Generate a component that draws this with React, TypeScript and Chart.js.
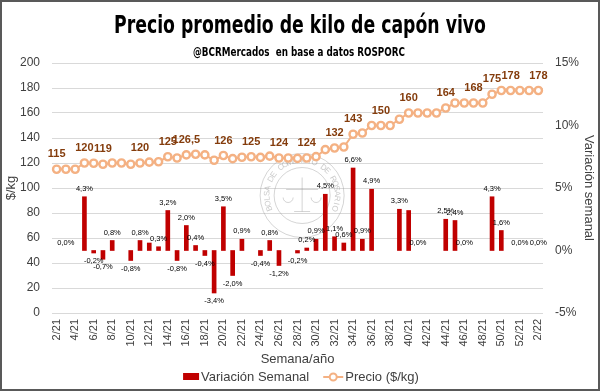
import React, { useEffect, useRef } from "react";
import { Chart, registerables } from "chart.js";

Chart.register(...registerables);

const weeks: string[] = [
  "2/21", "3/21", "4/21", "5/21", "6/21", "7/21", "8/21", "9/21", "10/21", "11/21",
  "12/21", "13/21", "14/21", "15/21", "16/21", "17/21", "18/21", "19/21", "20/21", "21/21",
  "22/21", "23/21", "24/21", "25/21", "26/21", "27/21", "28/21", "29/21", "30/21", "31/21",
  "32/21", "33/21", "34/21", "35/21", "36/21", "37/21", "38/21", "39/21", "40/21", "41/21",
  "42/21", "43/21", "44/21", "45/21", "46/21", "47/21", "48/21", "49/21", "50/21", "51/21",
  "52/21", "1/22", "2/22",
];

const prices: number[] = [
  115, 115, 115, 120, 119.8, 119, 120, 120, 119, 120,
  120.7, 121, 125, 124, 126.5, 127, 126.5, 122.2, 126, 123.5,
  124.6, 125, 124.5, 125.5, 124, 124, 123.7, 124, 125.1, 130.7,
  132, 132.8, 143, 144, 150, 150, 150, 155, 160, 160,
  160, 160, 164, 168, 168, 168, 168, 175, 178, 178,
  178, 178, 178,
];

const variation: (number | null)[] = [
  null, 0, null, 4.3, -0.2, -0.7, 0.8, null, -0.8, 0.8,
  0.6, 0.3, 3.2, -0.8, 2.0, 0.4, -0.4, -3.4, 3.5, -2.0,
  0.9, null, -0.4, 0.8, -1.2, null, -0.2, 0.2, 0.9, 4.5,
  1.1, 0.6, 6.6, 0.9, 4.9, null, null, 3.3, 3.2, 0,
  null, null, 2.5, 2.4, 0, null, null, 4.3, 1.6, null,
  0, null, 0,
];

// indices of the price points that carry a value label
const priceLabelIdx: number[] = [0, 3, 5, 9, 12, 14, 18, 21, 24, 27, 30, 32, 35, 38, 42, 45, 47, 49, 52];
// bars whose label is not shown
const hiddenVarLabelIdx: number[] = [10, 38];

const leftTicks = { min: 0, max: 200, step: 20 };
const rightTicks = { min: -5, max: 15, step: 5 };

const TITLE = "Precio promedio de kilo de capón vivo";
const SUBTITLE = "@BCRMercados  en base a datos ROSPORC";
const BAR_COLOR = "#C00000";
const LINE_COLOR = "#F4B183";
const PRICE_LABEL_COLOR = "#843C0C";
const TEXT_COLOR = "#404040";
const FONT = "'Liberation Sans', Arial, sans-serif";

function fmt(v: number, digits: number) {
  return v.toFixed(digits).replace(".", ",");
}

function fitText(ctx: CanvasRenderingContext2D, text: string, font: string, cx: number, baseline: number, targetW: number) {
  ctx.save();
  ctx.font = font;
  const w = ctx.measureText(text).width;
  ctx.translate(cx, baseline);
  ctx.scale(targetW / w, 1);
  ctx.textAlign = "center";
  ctx.textBaseline = "alphabetic";
  ctx.fillStyle = "#000";
  ctx.fillText(text, 0, 0);
  ctx.restore();
}

const decorPlugin = {
  id: "decor",
  beforeDatasetsDraw(chart: any) {
    const ctx: CanvasRenderingContext2D = chart.ctx;
    const xs = chart.scales.x;
    const ys = chart.scales.y1;
    const cx = (xs.getPixelForValue(26) + xs.getPixelForValue(27)) / 2;
    const cy = ys.getPixelForValue(4.4);
    ctx.save();
    ctx.strokeStyle = "rgba(150,150,150,0.4)";
    ctx.lineWidth = 1;
    ctx.beginPath();
    ctx.arc(cx, cy, 42, 0, Math.PI * 2);
    ctx.stroke();
    ctx.beginPath();
    ctx.arc(cx, cy, 28, 0, Math.PI * 2);
    ctx.stroke();
    // balance scale sketch
    ctx.beginPath();
    ctx.moveTo(cx, cy - 18);
    ctx.lineTo(cx, cy + 16);
    ctx.moveTo(cx - 16, cy - 6);
    ctx.lineTo(cx + 16, cy - 6);
    ctx.moveTo(cx - 8, cy + 16);
    ctx.lineTo(cx + 8, cy + 16);
    ctx.stroke();
    ctx.beginPath();
    ctx.arc(cx - 14, cy + 2, 5, 0, Math.PI);
    ctx.stroke();
    ctx.beginPath();
    ctx.arc(cx + 14, cy + 2, 5, 0, Math.PI);
    ctx.stroke();
    const ring = "BOLSA DE COMERCIO DE ROSARIO";
    ctx.font = `8px ${FONT}`;
    ctx.fillStyle = "rgba(150,150,150,0.5)";
    ctx.textAlign = "center";
    ctx.textBaseline = "middle";
    const start = -Math.PI / 2 - Math.PI * 0.62;
    const sweep = Math.PI * 1.24;
    for (let i = 0; i < ring.length; i++) {
      const a = start + (sweep * i) / (ring.length - 1);
      ctx.save();
      ctx.translate(cx, cy);
      ctx.rotate(a + Math.PI / 2);
      ctx.fillText(ring[i], 0, -35);
      ctx.restore();
    }
    ctx.restore();
  },
  afterDatasetsDraw(chart: any) {
    const ctx: CanvasRenderingContext2D = chart.ctx;
    ctx.save();
    // bar labels
    const barMeta = chart.getDatasetMeta(0);
    ctx.font = `7.5px ${FONT}`;
    ctx.fillStyle = "#000";
    ctx.textAlign = "center";
    ctx.textBaseline = "middle";
    variation.forEach((v, i) => {
      if (v === null || hiddenVarLabelIdx.includes(i)) return;
      const el = barMeta.data[i];
      if (!el) return;
      const y = v < 0 ? el.y + 8 : el.y - 8;
      ctx.fillText(fmt(v, 1) + "%", el.x, y);
    });
    // price labels
    const lineMeta = chart.getDatasetMeta(1);
    ctx.font = `bold 11px ${FONT}`;
    ctx.fillStyle = PRICE_LABEL_COLOR;
    priceLabelIdx.forEach((i) => {
      const el = lineMeta.data[i];
      if (!el) return;
      const v = prices[i];
      const txt = Number.isInteger(v) ? String(v) : fmt(v, 1);
      ctx.fillText(txt, el.x, el.y - 15);
    });
    ctx.restore();
  },
  afterDraw(chart: any) {
    const ctx: CanvasRenderingContext2D = chart.ctx;
    fitText(ctx, TITLE, "bold 25px 'DejaVu Sans Condensed', 'DejaVu Sans', sans-serif", 300, 33, 372);
    fitText(ctx, SUBTITLE, "bold 11.5px 'DejaVu Sans Condensed', 'DejaVu Sans', sans-serif", 299, 56, 212);
    // legend
    ctx.save();
    ctx.font = `13px ${FONT}`;
    const t1 = "Variación Semanal";
    const t2 = "Precio ($/kg)";
    const w1 = ctx.measureText(t1).width;
    const w2 = ctx.measureText(t2).width;
    const total = 16 + 2 + w1 + 14 + 20 + 2 + w2;
    let x = 301 - total / 2;
    const y = 377;
    ctx.fillStyle = BAR_COLOR;
    ctx.fillRect(x, y - 4, 16, 7);
    x += 18;
    ctx.fillStyle = TEXT_COLOR;
    ctx.textAlign = "left";
    ctx.textBaseline = "middle";
    ctx.fillText(t1, x, y);
    x += w1 + 14;
    ctx.strokeStyle = LINE_COLOR;
    ctx.lineWidth = 2;
    ctx.beginPath();
    ctx.moveTo(x, y);
    ctx.lineTo(x + 20, y);
    ctx.stroke();
    ctx.beginPath();
    ctx.arc(x + 10, y, 3.5, 0, Math.PI * 2);
    ctx.fillStyle = "#fff";
    ctx.fill();
    ctx.stroke();
    x += 22;
    ctx.fillStyle = TEXT_COLOR;
    ctx.fillText(t2, x, y);
    ctx.restore();
  },
};

export default function App() {
  const ref = useRef<HTMLCanvasElement>(null);
  useEffect(() => {
    document.body.style.margin = "0";
    const canvas = ref.current;
    if (!canvas) return;
    const chart = new Chart(canvas, {
      type: "bar",
      data: {
        labels: weeks,
        datasets: [
          {
            type: "bar",
            label: "Variación Semanal",
            data: variation as any,
            yAxisID: "y1",
            backgroundColor: (c: any) => (c.raw === 0 ? "rgba(0,0,0,0)" : BAR_COLOR),
            barThickness: 4,
            order: 1,
          } as any,
          {
            type: "line",
            label: "Precio ($/kg)",
            data: prices,
            yAxisID: "y",
            borderColor: LINE_COLOR,
            borderWidth: 2,
            pointRadius: 3.6,
            pointBorderWidth: 2.4,
            pointBackgroundColor: "#fff",
            pointBorderColor: LINE_COLOR,
            tension: 0,
            order: 0,
          } as any,
        ],
      },
      options: {
        responsive: false,
        animation: false,
        devicePixelRatio: 1,
        layout: { padding: { top: 63, bottom: 22, left: 0, right: 0 } },
        plugins: {
          legend: { display: false },
          tooltip: { enabled: false },
          title: { display: false },
        },
        scales: {
          x: {
            type: "category",
            grid: { display: false, drawTicks: false },
            border: { display: false },
            ticks: {
              autoSkip: false,
              maxRotation: 90,
              minRotation: 90,
              padding: 6,
              color: TEXT_COLOR,
              font: { family: FONT, size: 11 },
              callback: (_v: any, i: number) => (i % 2 === 0 ? weeks[i] : ""),
            },
            title: {
              display: true,
              text: "Semana/año",
              color: TEXT_COLOR,
              font: { family: FONT, size: 13 },
              padding: { top: 0, bottom: 2 },
            },
            afterFit: (s: any) => {
              s.height = 56;
            },
          },
          y: {
            position: "left",
            min: leftTicks.min,
            max: leftTicks.max,
            ticks: {
              stepSize: leftTicks.step,
              padding: 12,
              color: TEXT_COLOR,
              font: { family: FONT, size: 12 },
            },
            grid: { color: "#d9d9d9", drawTicks: false, lineWidth: 1 },
            border: { display: false },
            title: {
              display: true,
              text: "$/kg",
              color: TEXT_COLOR,
              font: { family: FONT, size: 13 },
            },
            afterFit: (s: any) => {
              s.width = 52;
            },
          },
          y1: {
            position: "right",
            min: rightTicks.min,
            max: rightTicks.max,
            ticks: {
              stepSize: rightTicks.step,
              padding: 12,
              color: TEXT_COLOR,
              font: { family: FONT, size: 12 },
              callback: (v: any) => `${v}%`,
            },
            grid: { display: false, drawTicks: false },
            border: { display: false },
            title: {
              display: true,
              text: "Variación semanal",
              color: TEXT_COLOR,
              font: { family: FONT, size: 13 },
            },
            afterFit: (s: any) => {
              s.width = 57;
            },
          },
        },
      } as any,
      plugins: [decorPlugin],
    });
    return () => chart.destroy();
  }, []);

  return (
    <div style={{ position: "relative", width: 600, height: 391, background: "#fff" }}>
      <canvas
        ref={ref}
        width={600}
        height={391}
        style={{ position: "absolute", left: 0, top: 0, width: 600, height: 391 }}
      />
      <div
        style={{
          position: "absolute",
          left: 0,
          top: 0,
          width: 600,
          height: 391,
          border: "2px solid #595959",
          boxSizing: "border-box",
          pointerEvents: "none",
        }}
      />
    </div>
  );
}
